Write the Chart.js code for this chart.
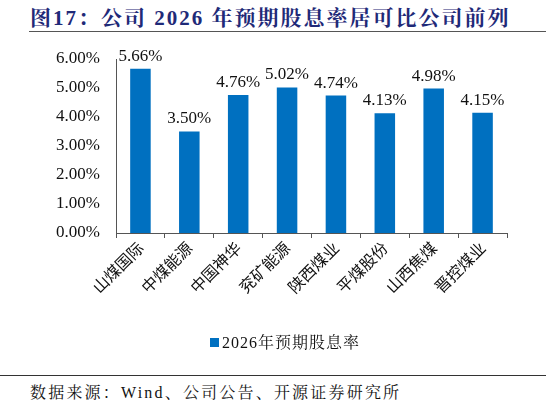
<!DOCTYPE html>
<html><head><meta charset="utf-8">
<script src="https://cdn.jsdelivr.net/npm/chart.js@4/dist/chart.umd.min.js"></script>
<style>
body{margin:0;width:546px;height:405px;position:relative;background:#fff;font-family:"Liberation Serif","Noto Serif CJK SC","Noto Sans CJK SC",serif;overflow:hidden}
#title{position:absolute;left:30px;top:1px;font-size:21px;letter-spacing:2px;font-weight:bold;color:#1f2a78;white-space:nowrap}
#tl{position:absolute;left:29px;right:0;top:31px;border-top:1.5px solid #555}
#fl{position:absolute;left:0;right:0;top:375px;border-top:1.5px solid #333}
#foot{position:absolute;left:30px;top:380px;font-size:16px;letter-spacing:2.2px;color:#111;white-space:nowrap}
#leg{position:absolute;left:210px;top:330px;font-size:16px;letter-spacing:1px;color:#111;white-space:nowrap}
#leg span{display:inline-block;width:9px;height:9px;background:#0070c0;margin-right:3px;vertical-align:1px}
#wrap{position:absolute;left:0;top:35px;width:546px;height:335px}
</style></head><body>
<div id="title">图17：公司 2026 年预期股息率居可比公司前列</div>
<div id="tl"></div>
<div id="wrap"><canvas id="c"></canvas></div>
<div id="leg"><span></span>2026年预期股息率</div>
<div id="fl"></div>
<div id="foot">数据来源：Wind、公司公告、开源证券研究所</div>
<script>
const categories=["山煤国际","中煤能源","中国神华","兖矿能源","陕西煤业","平煤股份","山西焦煤","晋控煤业"];
const values=[5.66,3.50,4.76,5.02,4.74,4.13,4.98,4.15];
const seriesName="2026年预期股息率";
const labelsPlugin={id:'vl',afterDatasetsDraw(ch){const c=ch.ctx;const m=ch.getDatasetMeta(0);c.save();c.font='17px "Liberation Serif"';c.fillStyle='#111';c.textAlign='center';c.textBaseline='bottom';
m.data.forEach((b,i)=>{c.fillText(values[i].toFixed(2)+'%',b.x,b.y-4);});c.restore();}};
new Chart(document.getElementById('c'),{type:'bar',
data:{labels:categories,datasets:[{label:seriesName,data:values,backgroundColor:'#0070c0',barPercentage:0.42,categoryPercentage:1}]},
options:{responsive:true,maintainAspectRatio:false,animation:false,
layout:{padding:{top:24,right:39,left:0,bottom:0}},
plugins:{legend:{display:false},tooltip:{enabled:false}},
scales:{
x:{afterFit(s){s.height=137;},grid:{display:true,offset:true,drawOnChartArea:false,tickLength:5,color:'#555'},border:{color:'#555'},
ticks:{color:'#111',maxRotation:45,minRotation:45,font:{family:'"Noto Sans CJK SC"',size:16},padding:0}},
y:{min:0,max:6,afterFit(s){s.width=116;},grid:{display:false},border:{display:true,color:'#555'},
ticks:{stepSize:1,color:'#111',font:{family:'"Liberation Serif"',size:17},padding:8,callback:v=>v.toFixed(2)+'%'}}
}},plugins:[labelsPlugin]});
</script></body></html>
